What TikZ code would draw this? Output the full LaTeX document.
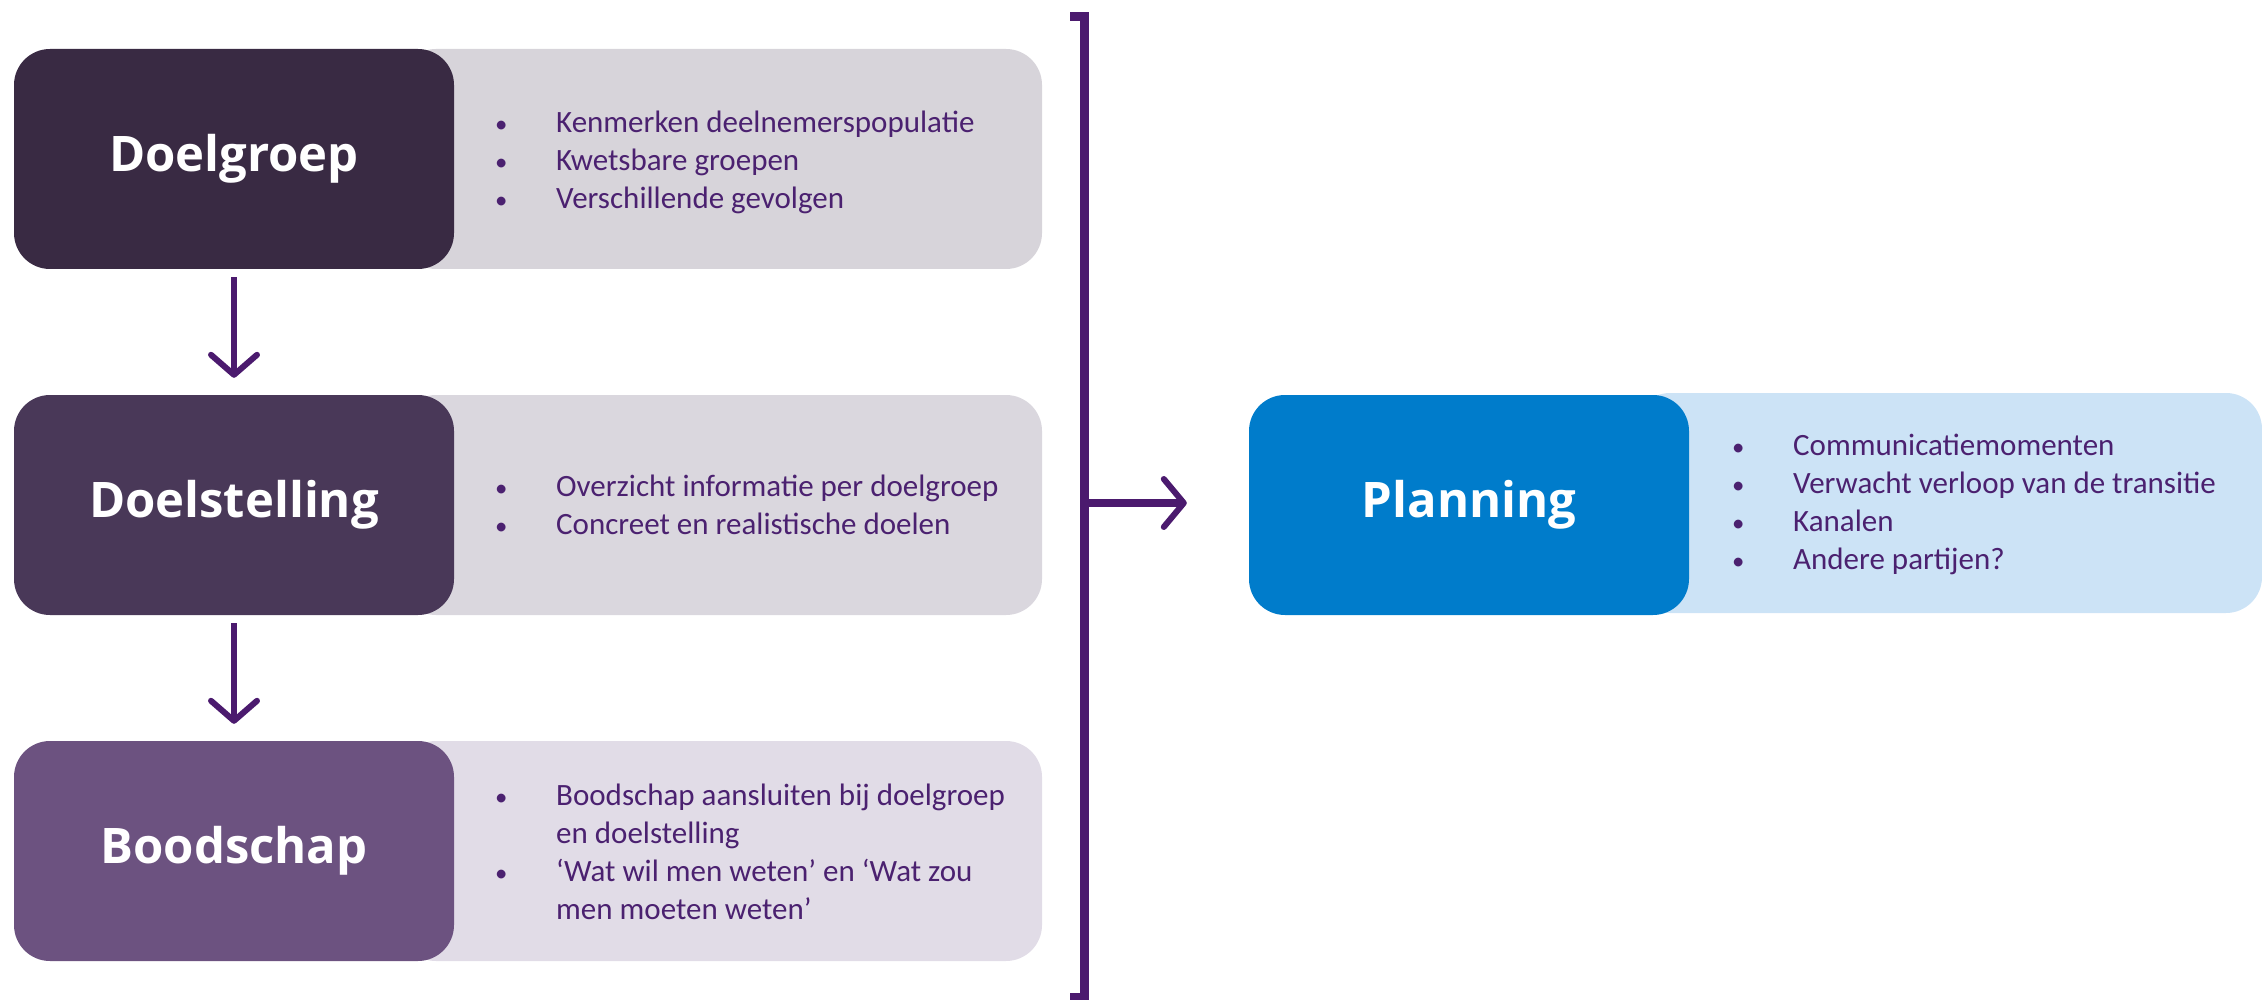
\documentclass[tikz,border=0pt]{standalone}
\usepackage{fontspec}
\usepackage{graphicx}
\setmainfont{Carlito}
\newfontfamily\titlefont{Open Sans}
\usetikzlibrary{arrows.meta}
\definecolor{darkA}{HTML}{392A43}
\definecolor{lightA}{HTML}{D7D4DA}
\definecolor{darkB}{HTML}{493858}
\definecolor{lightB}{HTML}{DAD7DE}
\definecolor{darkC}{HTML}{6C5280}
\definecolor{lightC}{HTML}{E1DCE7}
\definecolor{darkP}{HTML}{007CCB}
\definecolor{lightP}{HTML}{CCE3F6}
\definecolor{lineP}{HTML}{4B1A6E}
\definecolor{textP}{HTML}{4B2170}
\newcommand{\bl}{\scalebox{0.8}{\textbullet}}
\begin{document}
\begin{tikzpicture}[x=1pt,y=-1pt,
  darkbox/.style={draw=none,rounded corners=36pt,minimum width=440pt,minimum height=220pt,inner sep=0pt,
    font=\titlefont\bfseries\fontsize{49}{53}\selectfont,text=white},
  lightbox/.style={draw=none,rounded corners=36pt,minimum height=220pt,inner sep=0pt},
  bullets/.style={anchor=base west,inner sep=0pt,text=textP,font=\fontsize{31}{38}\selectfont},
  flow/.style={draw=lineP,line width=6pt,-{Straight Barb[length=20pt,width=46pt,line width=6pt,round]}}
]
\useasboundingbox (0,0) rectangle (2262,1000);
% light boxes
\node[lightbox,fill=lightA,minimum width=642pt] (la) at (721,159) {};
\node[lightbox,fill=lightB,minimum width=642pt] (lb) at (721,505) {};
\node[lightbox,fill=lightC,minimum width=642pt] (lc) at (721,851) {};
\node[lightbox,fill=lightP,minimum width=628pt] (lp) at (1948,503) {};
% dark boxes
\node[darkbox,fill=darkA] (da) at (234,159) {Doelgroep};
\node[darkbox,fill=darkB] (db) at (234,505) {Doelstelling};
\node[darkbox,fill=darkC] (dc) at (234,851) {Boodschap};
\node[darkbox,fill=darkP] (dp) at (1469,505) {Planning};
% bullet texts
\node[bullets] (ta) at (495,133) {\begin{tabular}[t]{@{}p{61pt}@{}l@{}}
\bl & Kenmerken deelnemerspopulatie\\
\bl & Kwetsbare groepen\\
\bl & Verschillende gevolgen\end{tabular}};
\node[bullets] (tb) at (495,496) {\begin{tabular}[t]{@{}p{61pt}@{}l@{}}
\bl & Overzicht informatie per doelgroep\\
\bl & Concreet en realistische doelen\end{tabular}};
\node[bullets] (tc) at (495,805) {\begin{tabular}[t]{@{}p{61pt}@{}l@{}}
\bl & Boodschap aansluiten bij doelgroep\\
 & en doelstelling\\
\bl & ‘Wat wil men weten’ en ‘Wat zou\\
 & men moeten weten’\end{tabular}};
\node[bullets] (tp) at (1732,455) {\begin{tabular}[t]{@{}p{61pt}@{}l@{}}
\bl & Communicatiemomenten\\
\bl & Verwacht verloop van de transitie\\
\bl & Kanalen\\
\bl & Andere partijen?\end{tabular}};
% arrows between steps
\draw[flow,shorten <=8pt,shorten >=17pt] (da.south) -- (db.north);
\draw[flow,shorten <=8pt,shorten >=17pt] (db.south) -- (dc.north);
% bracket
\coordinate (bt) at (1070,16.5);
\coordinate (bb) at (1070,997);
\coordinate (bm) at (1084.5,503);
\draw[lineP,line width=9pt] (bt) -| (1084.5,997) -- (bb);
\draw[draw=lineP,line width=8pt,shorten >=62pt,-{Straight Barb[length=20pt,width=48pt,line width=6pt,round]}] (bm) -- (bm -| dp.west);
\end{tikzpicture}
\end{document}
